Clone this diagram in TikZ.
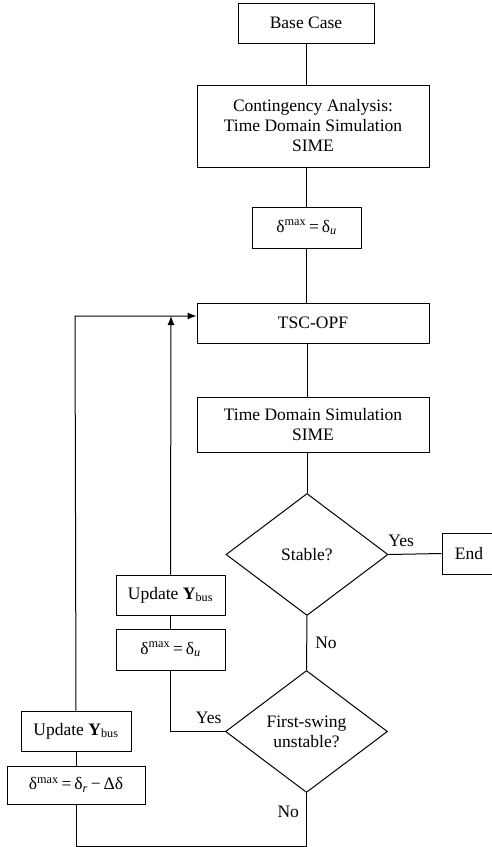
\documentclass[tikz,border=0pt]{standalone}
\usepackage{fontspec}
\setmainfont{Liberation Serif}
\usetikzlibrary{arrows.meta,shapes.geometric}
\newcommand{\dmx}{δ\textsuperscript{max}\,=\,δ}
\begin{document}
\begin{tikzpicture}[x=1pt,y=-1pt, line width=1pt,
  every node/.style={font=\fontsize{17.5}{20}\selectfont},
  box/.style={draw, rectangle, inner sep=0pt, align=center},
  dia/.style={draw, diamond, inner sep=0pt, align=center, minimum width=162pt, minimum height=122pt},
  arr/.style={-{Latex[length=9pt,width=7pt]}}]
\useasboundingbox (0,0) rectangle (492,847);
\node[box, minimum width=136pt, minimum height=40pt] (base) at (306,23) {Base Case};
\node[box, minimum width=232pt, minimum height=82pt] (cont) at (313,126) {Contingency Analysis:\\Time Domain Simulation\\SIME};
\node[box, minimum width=109pt, minimum height=41pt] (dmax) at (306.5,227.5) {\dmx\textsubscript{\textit{u}}};
\node[box, minimum width=232pt, minimum height=40pt] (tsc) at (313,323) {TSC-OPF};
\node[box, minimum width=232pt, minimum height=55pt] (tds) at (313,424.5) {Time Domain Simulation\\SIME};
\node[dia] (stable) at (307,554.5) {Stable?};
\node[box, minimum width=54pt, minimum height=41pt] (end) at (469,553.5) {End};
\node[box, minimum width=109pt, minimum height=40pt] (upd1) at (170.5,595) {Update \textbf{Y}\textsubscript{bus}};
\node[box, minimum width=109pt, minimum height=41pt] (d1) at (170.5,649.5) {\dmx\textsubscript{\textit{u}}};
\node[dia] (first) at (306.5,731.5) {First-swing\\unstable?};
\node[box, minimum width=110pt, minimum height=40pt] (upd2) at (76,731) {Update \textbf{Y}\textsubscript{bus}};
\node[box, minimum width=138pt, minimum height=38pt] (d2) at (76,785) {\dmx\textsubscript{\textit{r}}\,−\,Δδ};
\coordinate (j1) at (171,316);
\coordinate (j2) at (75,316);
\coordinate (bot) at (306.5,846);
\draw (base.south) -- (base.south |- cont.north);
\draw (base.south |- cont.south) -- (base.south |- dmax.north);
\draw (dmax.south) -- (dmax.south |- tsc.north);
\draw (stable.north |- tsc.south) -- (stable.north |- tds.north);
\draw (stable.north |- tds.south) -- (stable.north);
\draw (stable.east) -- (end.west) node[pos=0.24, above, inner sep=7pt] {Yes};
\draw (stable.south) -- (first.north) node[pos=0.5, right, inner sep=8pt] {No};
\draw (first.west) -- node[pos=0.3, above, inner sep=7pt] {Yes} (first.west -| d1.south) -- (d1.south);
\draw (d1.north) -- (upd1.south);
\draw[arr] (upd1.north) -- (j1);
\draw (first.south) -- node[pos=0.35, left, inner sep=7pt] {No} (bot) -| (d2.south);
\draw (d2.north) -- (upd2.south);
\draw[arr] (upd2.north) -- (j2) -- (tsc.west |- j2);
\end{tikzpicture}
\end{document}
